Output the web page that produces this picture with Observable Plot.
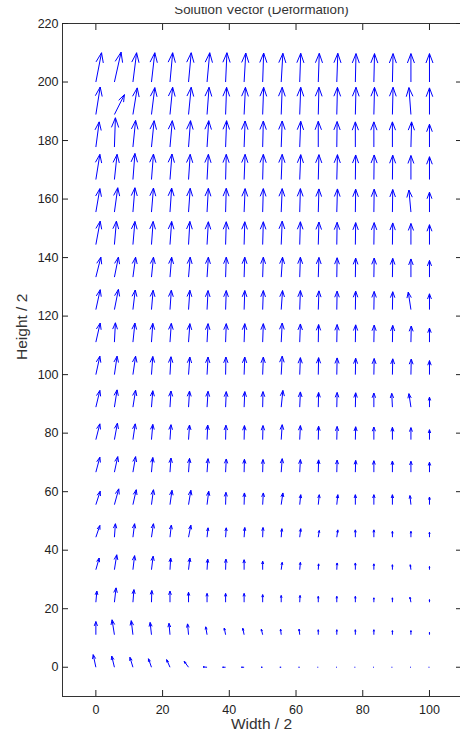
<!DOCTYPE html>
<html><head><meta charset="utf-8">
<script src="https://cdn.jsdelivr.net/npm/d3@7"></script>
<script src="https://cdn.jsdelivr.net/npm/@observablehq/plot@0.6"></script>
<style>
body{margin:0;background:#fff;overflow:hidden}
#wrap{position:relative;width:460px;height:742px}
#mask{position:absolute;left:0;top:0;width:460px;height:6.5px;background:#fff}
</style></head><body><div id="wrap"><div id="chart"></div><div id="mask"></div></div>
<script>
const title = "Solution Vector (Deformation)";
const xLabel = "Width / 2";
const yLabel = "Height / 2";
const xTicks = [0, 20, 40, 60, 80, 100];
const yTicks = [0, 20, 40, 60, 80, 100, 120, 140, 160, 180, 200, 220];
const gridX = [0, 5.56, 11.11, 16.67, 22.22, 27.78, 33.33, 38.89, 44.44, 50, 55.56, 61.11, 66.67, 72.22, 77.78, 83.33, 88.89, 94.44, 100];
const gridY = [0, 11.11, 22.22, 33.33, 44.44, 55.56, 66.67, 77.78, 88.89, 100, 111.11, 122.22, 133.33, 144.44, 155.56, 166.67, 177.78, 188.89, 200];
// horizontal components, rows from y=0 (first) to y=200 (last)
const U = [
 [-0.8,-0.8,-0.9,-0.9,-1.0,-1.3,-1.2,-0.9,-0.8,-0.5,-0.4,-0.3,-0.2,-0.2,-0.2,-0.2,-0.2,-0.2,-0.2],
 [0.0,-0.7,-0.5,-0.4,-0.3,-0.3,-0.4,-0.4,-0.4,-0.4,-0.2,-0.2,0.0,0.0,0.0,0.0,0.0,0.0,0.0],
 [0.3,0.5,0.3,0.1,0.0,0.0,0.0,0.0,0.0,0.0,0.0,0.1,0.0,0.0,0.0,0.0,0.0,-0.3,0.0],
 [1.0,0.7,0.5,0.5,0.2,0.4,0.2,0.1,0.0,0.0,0.3,0.2,0.1,0.1,0.0,0.0,0.0,-0.2,0.0],
 [1.2,0.3,0.5,0.6,0.4,0.7,0.3,0.2,0.2,0.1,0.2,0.3,0.3,0.3,0.0,0.0,0.0,0.0,0.0],
 [1.3,1.3,1.0,0.6,0.6,0.7,0.5,0.1,0.1,0.2,0.5,0.3,0.3,0.3,0.0,0.0,0.0,-0.3,0.0],
 [1.2,1.0,0.8,0.4,0.3,0.3,0.3,0.2,0.1,0.1,0.3,0.2,0.1,0.1,0.1,0.0,0.0,0.0,0.0],
 [1.2,0.9,0.7,0.4,0.3,0.3,0.2,0.1,0.1,0.1,0.3,0.2,0.1,0.1,0.1,0.0,0.0,0.0,0.0],
 [1.2,0.8,0.8,0.4,0.3,0.3,0.3,0.2,0.2,0.1,0.5,0.2,0.1,0.1,0.1,0.0,-0.2,-0.6,0.0],
 [1.2,0.8,0.8,0.4,0.3,0.4,0.3,0.1,0.2,0.2,0.3,0.2,0.1,0.1,0.1,0.1,0.1,0.1,0.0],
 [1.3,0.3,0.6,0.4,0.4,0.4,0.3,0.2,0.2,0.2,0.3,0.2,0.1,0.1,0.1,0.1,0.1,0.1,0.0],
 [1.3,1.2,0.7,0.5,0.4,0.4,0.3,0.2,0.2,0.2,0.4,0.2,0.2,0.1,0.1,0.1,0.1,-0.8,0.0],
 [1.5,1.2,0.8,0.6,0.5,0.5,0.4,0.2,0.2,0.2,0.4,0.2,0.2,0.1,0.1,0.1,0.1,0.0,0.0],
 [1.3,0.6,0.6,0.5,0.5,0.4,0.4,0.2,0.2,0.2,0.3,0.2,0.2,0.1,0.1,0.1,0.1,0.0,0.0],
 [1.2,1.0,0.6,0.6,0.5,0.5,0.4,0.2,0.3,0.2,0.3,0.2,0.2,0.2,0.1,0.1,0.1,-0.6,0.0],
 [1.2,0.8,0.6,0.6,0.6,0.5,0.4,0.2,0.3,0.2,0.3,0.3,0.2,0.2,0.1,0.1,0.1,0.0,0.0],
 [1.0,0.3,0.8,0.8,0.7,0.6,0.5,0.3,0.3,0.2,0.3,0.3,0.0,0.1,0.0,0.0,0.0,0.2,0.0],
 [1.3,3.0,1.3,1.0,0.8,0.8,0.6,0.3,0.4,0.3,0.3,0.3,0.2,0.2,0.2,0.2,0.2,-0.6,0.0],
 [1.7,2.0,1.1,1.0,0.8,0.8,0.8,0.4,0.5,0.3,0.5,0.3,0.3,0.3,0.2,0.2,0.2,0.0,0.0]
];
// vertical components, rows from y=0 (first) to y=200 (last)
const V = [
 [4.3,3.8,3.4,2.9,2.6,2.0,0.1,0.0,0.0,0.0,0.0,0.0,0.0,0.0,0.0,0.0,0.0,0.0,0.0],
 [4.5,5.1,4.8,4.2,3.9,3.7,2.7,2.3,2.2,1.9,1.9,1.9,1.7,1.7,1.7,1.7,1.4,1.4,0.8],
 [3.8,4.9,4.3,4.0,3.8,3.4,3.0,3.0,3.0,2.6,2.3,2.3,2.0,2.0,2.0,1.5,1.5,1.7,0.9],
 [4.0,5.1,4.8,4.6,4.0,4.0,3.6,3.6,3.4,2.9,2.5,2.5,2.0,2.3,2.3,2.0,1.7,1.7,1.1],
 [4.0,4.6,4.6,4.6,4.1,4.1,3.2,3.2,3.3,3.3,2.9,2.9,2.3,2.5,2.5,2.5,2.0,2.0,1.7],
 [4.6,5.4,5.1,5.1,4.9,4.9,4.6,4.2,4.0,4.0,4.0,3.4,3.4,3.4,3.4,3.4,3.4,3.1,2.6],
 [5.1,5.3,5.3,5.0,4.8,4.7,4.6,4.5,4.4,4.3,4.6,4.3,4.2,4.1,4.0,3.9,3.8,3.7,3.4],
 [5.4,5.6,5.4,5.2,5.1,5.0,5.0,4.9,4.8,4.8,5.1,4.8,4.6,4.5,4.4,4.3,4.2,4.1,3.4],
 [5.7,5.9,5.8,5.6,5.5,5.5,5.4,5.3,5.3,5.3,5.7,5.2,5.0,5.0,4.9,4.8,4.7,4.6,3.4],
 [6.3,6.3,6.3,6.2,6.1,6.0,6.0,6.0,6.0,6.0,6.3,5.8,5.8,5.7,5.6,5.5,5.4,5.3,4.8],
 [6.5,6.6,6.5,6.4,6.4,6.3,6.3,6.3,6.3,6.3,6.5,6.2,6.0,6.0,5.9,5.8,5.7,5.5,4.8],
 [6.8,6.9,6.7,6.6,6.6,6.6,6.5,6.5,6.5,6.5,6.5,6.5,6.4,6.3,6.3,6.2,6.1,6.0,5.4],
 [6.8,6.8,6.8,6.8,6.8,6.8,6.8,6.8,6.8,6.8,6.8,6.8,6.7,6.6,6.5,6.5,6.4,6.2,5.7],
 [8.0,8.0,7.9,7.9,7.9,7.9,7.8,7.8,7.8,7.8,8.0,7.8,7.7,7.6,7.5,7.5,7.4,7.2,6.8],
 [8.0,8.3,8.3,8.2,8.2,8.1,8.1,8.1,8.0,8.0,8.0,8.0,7.9,7.9,7.8,7.8,7.7,7.5,6.8],
 [8.6,8.6,8.9,8.7,8.7,8.6,8.6,8.6,8.6,8.6,8.6,8.5,8.5,8.5,8.4,8.4,8.3,8.2,7.8],
 [8.6,10.0,9.1,9.0,9.0,9.0,9.0,9.0,8.9,8.9,8.9,8.8,8.8,8.7,8.6,8.6,8.6,8.6,7.8],
 [9.4,6.8,9.1,9.2,9.3,9.3,9.3,9.3,9.3,9.3,9.3,9.3,9.3,9.3,9.3,9.3,9.3,9.2,9.1],
 [10.0,10.2,10.0,10.0,10.0,10.0,10.0,10.0,9.9,9.9,9.8,9.8,9.8,9.8,9.7,9.7,9.7,9.7,9.7]
];

const alpha = 0.33, beta = 0.33;
const data = [];
gridY.forEach((y, r) => gridX.forEach((x, c) => {
  const u = U[r][c], v = V[r][c];
  const tx = x + u, ty = y + v;
  data.push({x, y, tx, ty,
    h1x: tx - alpha * (u + beta * v), h1y: ty - alpha * (v - beta * u),
    h2x: tx - alpha * (u - beta * v), h2y: ty - alpha * (v + beta * u)});
}));

const blue = "#0000ff";
const chart = Plot.plot({
  width: 460, height: 742,
  marginLeft: 62, marginRight: 0, marginTop: 23, marginBottom: 46,
  style: {fontFamily: "'Liberation Sans', Arial, sans-serif", fontSize: "12.5px", color: "#222", background: "#fff", overflow: "visible"},
  x: {domain: [-10, 109.3]},
  y: {domain: [-10, 220]},
  marks: [
    Plot.link(data, {x1: "x", y1: "y", x2: "tx", y2: "ty", stroke: blue, strokeWidth: 1}),
    Plot.link(data, {x1: "tx", y1: "ty", x2: "h1x", y2: "h1y", stroke: blue, strokeWidth: 1}),
    Plot.link(data, {x1: "tx", y1: "ty", x2: "h2x", y2: "h2y", stroke: blue, strokeWidth: 1}),
    Plot.ruleX([-10], {stroke: "#333"}),
    Plot.ruleY([-10, 220], {stroke: "#333"}),
    Plot.axisX({anchor: "bottom", ticks: xTicks, tickSize: -6, tickPadding: 15, label: null}),
    Plot.axisX({anchor: "top", ticks: xTicks, tickSize: -6, tickFormat: () => "", label: null}),
    Plot.axisY({anchor: "left", ticks: yTicks, tickSize: -6, tickPadding: 10, label: null}),
    Plot.axisY({anchor: "right", ticks: yTicks, tickSize: -5, tickFormat: () => "", label: null}),
    Plot.text([xLabel], {frameAnchor: "bottom", dy: 32, text: d => d, fontSize: 15.5, fill: "#333"}),
    Plot.text([yLabel], {frameAnchor: "left", dx: -40, rotate: -90, text: d => d, fontSize: 15.5, fill: "#333"}),
    Plot.text([title], {frameAnchor: "top", dy: -10, lineAnchor: "bottom", text: d => d, fontSize: 13.3, fill: "#333"})
  ]
});
document.getElementById("chart").appendChild(chart);
</script></body></html>
